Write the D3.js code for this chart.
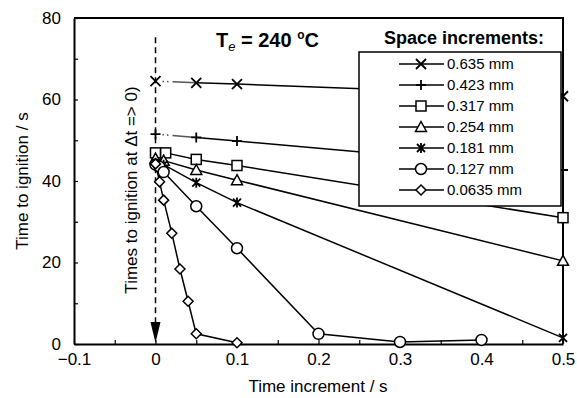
<!DOCTYPE html>
<html>
<head>
<meta charset="utf-8">
<script src="https://cdn.jsdelivr.net/npm/d3@7"></script>
<style>
  body { margin: 0; background: #fff; }
  text { font-family: "Liberation Sans", Arial, sans-serif; }
</style>
</head>
<body>
<script>
/* ------------------------------- chart data ------------------------------- */
const seriesNames = ["0.635 mm", "0.423 mm", "0.317 mm", "0.254 mm", "0.181 mm", "0.127 mm", "0.0635 mm"]
const symbols = ["x", "plus", "square", "triangle", "star", "circle", "diamond"]
const s0635 = [[0, 64.5], [0.05, 64.1], [0.1, 63.8], [0.5, 60.8]]
const s0423 = [[0, 51.5], [0.05, 50.7], [0.1, 49.8], [0.5, 42.7]]
const s0317 = [[0, 46.9], [0.0125, 46.9], [0.05, 45.3], [0.1, 43.8], [0.5, 31]]
const s0254 = [[0, 45.5], [0.01, 45], [0.05, 42.7], [0.1, 40.2], [0.5, 20.4]]
const s0181 = [[0, 44.5], [0.01, 44], [0.05, 39.6], [0.1, 34.7], [0.5, 1.5]]
const s0127 = [[0, 44], [0.005, 43.5], [0.01, 42.2], [0.05, 33.8], [0.1, 23.5], [0.2, 2.5], [0.3, 0.5], [0.4, 1]]
const s00635 = [[0, 44.2], [0.005, 39.8], [0.01, 35.3], [0.02, 27.2], [0.03, 18.4], [0.04, 10.5], [0.05, 2.5], [0.1, 0.3]]
const allSeries = [s0635, s0423, s0317, s0254, s0181, s0127, s00635]
const xTicks = [-0.1, 0, 0.1, 0.2, 0.3, 0.4, 0.5]
const yTicks = [0, 20, 40, 60, 80]

/* ----------------------------- create main svg ---------------------------- */
const width = 577, height = 398
const svg = d3.select("body").append("svg").attr("width", width).attr("height", height)

const x = d3.scaleLinear().domain([-0.1, 0.5]).range([74, 563])
const y = d3.scaleLinear().domain([0, 80]).range([344, 18])

//frame lines top and right
svg.append("path")
    .attr("d", `M${x(-0.1)},${y(80)}H${x(0.5)}V${y(0)}`)
    .attr("fill", "none").attr("stroke", "#000").attr("stroke-width", 2)

//axes with inward ticks
const xAxis = d3.axisBottom(x).tickValues(d3.range(-0.1, 0.5001, 0.05)).tickSize(-4).tickSizeOuter(0)
    .tickFormat(d => xTicks.some(t => Math.abs(t - d) < 1e-6) ? (Math.abs(d) < 1e-9 ? "0" : d3.format(".1f")(d).replace("-", "\u2212")) : "")
const gx = svg.append("g").attr("transform", `translate(0,${y(0)})`).call(xAxis)
gx.selectAll("text").attr("y", 21).attr("dy", 0).style("font-size", "17px").attr("fill", "#000")

const yAxis = d3.axisLeft(y).tickValues(d3.range(0, 81, 10)).tickSize(-4).tickSizeOuter(0)
    .tickFormat(d => yTicks.includes(d) ? d : "")
const gy = svg.append("g").attr("transform", `translate(${x(-0.1)},0)`).call(yAxis)
gy.selectAll("text").attr("x", -13).style("font-size", "17px").attr("fill", "#000")
svg.selectAll(".domain").attr("stroke-width", 2)
svg.selectAll(".tick line").attr("stroke-width", 1.2)

//axis titles
svg.append("text").attr("x", 318).attr("y", 392).attr("text-anchor", "middle")
    .style("font-size", "17px").text("Time increment / s")
svg.append("text").attr("transform", "translate(28,181) rotate(-90)").attr("text-anchor", "middle")
    .style("font-size", "17px").text("Time to ignition / s")

//dashed arrow at dt = 0
svg.append("line").attr("x1", x(0)).attr("x2", x(0)).attr("y1", y(75.3)).attr("y2", y(0) - 18)
    .attr("stroke", "#000").attr("stroke-width", 1.5).attr("stroke-dasharray", "6,4")
svg.append("path")
    .attr("d", `M${x(0) - 5},${y(0) - 22}L${x(0) + 5},${y(0) - 22}L${x(0)},${y(0) - 1}Z`)
    .attr("fill", "#000")
svg.append("text").attr("transform", `translate(137,190) rotate(-90)`).attr("text-anchor", "middle")
    .style("font-size", "17px").text("Times to ignition at \u0394t => 0)")

/* --------------------------------- series --------------------------------- */
function marker(g, type, cx, cy) {
    const s = g.append("g").attr("transform", `translate(${cx},${cy})`)
    const st = el => el.attr("fill", "#fff").attr("stroke", "#000").attr("stroke-width", 1.5)
    if (type === "x") s.append("path").attr("d", "M-5,-5L5,5M-5,5L5,-5").attr("stroke", "#000").attr("stroke-width", 1.8)
    if (type === "plus") s.append("path").attr("d", "M-5,0H5M0,-5V5").attr("stroke", "#000").attr("stroke-width", 1.8)
    if (type === "star") s.append("path").attr("d", "M-4,-4L4,4M-4,4L4,-4M0,-5V5").attr("stroke", "#000").attr("stroke-width", 1.8)
    if (type === "square") st(s.append("rect").attr("x", -5).attr("y", -5).attr("width", 10).attr("height", 10))
    if (type === "circle") st(s.append("circle").attr("r", 5.5))
    if (type === "triangle") st(s.append("path").attr("d", "M0,-5.5L5.5,4.5L-5.5,4.5Z"))
    if (type === "diamond") st(s.append("path").attr("d", "M0,-5L5,0L0,5L-5,0Z"))
}

const line = d3.line().x(d => x(d[0])).y(d => y(d[1]))
allSeries.forEach((data, i) => {
    const g = svg.append("g")
    if (i < 2) {
        //extrapolated first segment is only partly drawn
        g.append("path").attr("d", line(data.slice(0, 2))).attr("fill", "none")
            .attr("stroke", "#555").attr("stroke-width", 1.5).attr("stroke-dasharray", "0,7,1.5,3,1.5,4,200")
        g.append("path").attr("d", line(data.slice(1))).attr("fill", "none")
            .attr("stroke", "#000").attr("stroke-width", 1.5)
    } else {
        g.append("path").attr("d", line(data)).attr("fill", "none")
            .attr("stroke", "#000").attr("stroke-width", 1.5)
    }
})
allSeries.forEach((data, i) => {
    const g = svg.append("g")
    data.forEach(d => marker(g, symbols[i], x(d[0]), y(d[1])))
})

/* --------------------------------- legend --------------------------------- */
svg.append("text").attr("x", 464).attr("y", 44).attr("text-anchor", "middle")
    .style("font-size", "18px").style("font-weight", "bold").text("Space increments:")
svg.append("rect").attr("x", 359).attr("y", 52).attr("width", 202).attr("height", 154)
    .attr("fill", "#fff").attr("stroke", "#000").attr("stroke-width", 1.5)
seriesNames.forEach((name, i) => {
    const ly = 64 + i * 21
    const g = svg.append("g")
    g.append("line").attr("x1", 399).attr("x2", 444).attr("y1", ly).attr("y2", ly)
        .attr("stroke", "#000").attr("stroke-width", 1.5)
    marker(g, symbols[i], 421, ly)
    g.append("text").attr("x", 447).attr("y", ly + 5).style("font-size", "15px").text(name)
})

//temperature label
const t = svg.append("text").attr("x", 216).attr("y", 47).style("font-size", "20px").style("font-weight", "bold")
t.append("tspan").text("T")
t.append("tspan").attr("dy", 4).style("font-size", "13px").style("font-weight", "normal").style("font-style", "italic").text("e")
t.append("tspan").attr("dy", -4).text(" = 240 ")
t.append("tspan").attr("dy", -8).style("font-size", "12px").text("o")
t.append("tspan").attr("dy", 8).text("C")
</script>
</body>
</html>
